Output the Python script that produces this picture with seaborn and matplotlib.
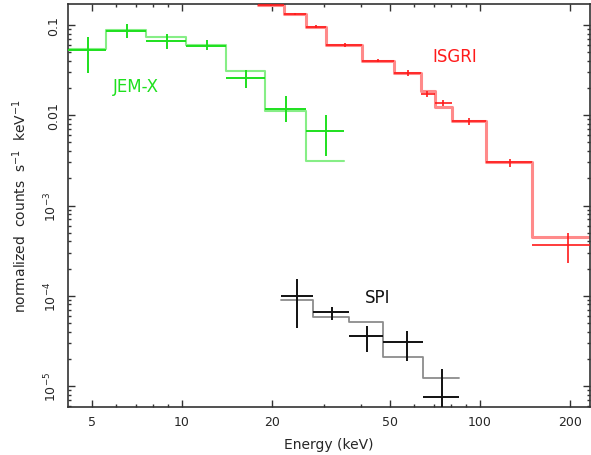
import matplotlib
matplotlib.use("Agg")
import matplotlib.pyplot as plt
import seaborn as sns
import numpy as np
import pandas as pd
from matplotlib.ticker import FixedLocator, FixedFormatter, LogLocator, NullFormatter

# ---------------- data ----------------
# JEM-X
jemx_lo = [4.1, 5.56, 7.57, 10.3, 14.05, 19.0, 26.1]
jemx_hi = [5.56, 7.57, 10.3, 14.05, 19.0, 26.1, 35.0]
jemx_e = [4.84, 6.54, 8.9, 12.1, 16.4, 22.3, 30.4]
jemx_flux = [0.0528, 0.0858, 0.0665, 0.0585, 0.0259, 0.0117, 0.0067]
jemx_ylow = [0.0294, 0.0717, 0.0542, 0.0528, 0.0200, 0.0084, 0.00354]
jemx_yhigh = [0.0736, 0.1026, 0.0795, 0.0682, 0.0317, 0.0163, 0.0101]
jemx_model = [0.0542, 0.088, 0.0736, 0.060, 0.0309, 0.0111, 0.0031]

# ISGRI
isgri_lo = [18.0, 22.0, 26.1, 30.4, 40.2, 51.4, 63.4, 70.6, 80.5, 104.7, 149.5]
isgri_hi = [22.0, 26.1, 30.4, 40.2, 51.4, 63.4, 70.6, 80.5, 104.7, 149.5, 260.0]
isgri_e = [19.9, 23.9, 28.2, 35.2, 45.5, 57.3, 66.4, 75.1, 91.9, 126.0, 197.0]
isgri_flux = [0.166, 0.132, 0.095, 0.060, 0.040, 0.0294, 0.0172, 0.0137, 0.0086, 0.0030, 3.65e-4]
isgri_ylow = [0.162, 0.128, 0.092, 0.0575, 0.0385, 0.0272, 0.0158, 0.0126, 0.0079, 0.0027, 2.3e-4]
isgri_yhigh = [0.171, 0.136, 0.099, 0.0625, 0.0415, 0.0318, 0.0187, 0.0149, 0.0093, 0.0033, 4.95e-4]
isgri_model = [0.166, 0.132, 0.095, 0.060, 0.040, 0.0294, 0.0186, 0.0123, 0.0086, 0.0030, 4.48e-4]

# SPI
spi_lo = [21.5, 27.5, 36.3, 47.3, 64.4]
spi_hi = [27.5, 36.3, 47.3, 64.4, 85.0]
spi_e = [24.3, 31.9, 41.8, 56.9, 74.6]
spi_flux = [9.9e-5, 6.6e-5, 3.6e-5, 3.1e-5, 7.5e-6]
spi_ylow = [4.4e-5, 5.4e-5, 2.4e-5, 1.9e-5, 4.0e-6]
spi_yhigh = [1.53e-4, 7.5e-5, 4.6e-5, 4.1e-5, 1.54e-5]
spi_model = [9.0e-5, 5.8e-5, 5.1e-5, 2.1e-5, 1.23e-5]

xtick_vals = [5, 10, 20, 50, 100, 200]
xtick_labels = ["5", "10", "20", "50", "100", "200"]
ytick_vals = [1e-5, 1e-4, 1e-3, 1e-2, 1e-1]
ytick_labels = ["$10^{-5}$", "$10^{-4}$", "$10^{-3}$", "0.01", "0.1"]

# ---------------- plot ----------------
sns.set_style("ticks")
plt.rcParams["font.family"] = ["DejaVu Sans"]

fig = plt.figure(figsize=(5.91, 4.56), dpi=100)
ax = fig.add_axes([68 / 591, 1 - 408 / 456, 522 / 591, 403 / 456])
ax.set_xscale("log")
ax.set_yscale("log")


def model_step(lo, hi, model, color, lw):
    df = pd.DataFrame({"E": list(lo) + [hi[-1]], "F": list(model) + [model[-1]]})
    sns.lineplot(data=df, x="E", y="F", ax=ax, color=color, lw=lw,
                 drawstyle="steps-post", estimator=None, zorder=2)


def data_cross(e, lo, hi, f, ylow, yhigh, color, lw):
    e = np.asarray(e); f = np.asarray(f)
    xerr = [e - np.asarray(lo), np.asarray(hi) - e]
    yerr = [f - np.asarray(ylow), np.asarray(yhigh) - f]
    ax.errorbar(e, f, xerr=xerr, yerr=yerr, fmt="none", ecolor=color,
                elinewidth=lw, capsize=0, zorder=3)


model_step(jemx_lo, jemx_hi, jemx_model, "#86ee86", 1.5)
model_step(isgri_lo, isgri_hi, isgri_model, "#ff8a8a", 2.2)
model_step(spi_lo, spi_hi, spi_model, "#8c8c8c", 1.3)

data_cross(jemx_e, jemx_lo, jemx_hi, jemx_flux, jemx_ylow, jemx_yhigh, "#1ee01e", 1.4)
data_cross(isgri_e, isgri_lo, isgri_hi, isgri_flux, isgri_ylow, isgri_yhigh, "#ff1a1a", 1.2)
data_cross(spi_e, spi_lo, spi_hi, spi_flux, spi_ylow, spi_yhigh, "#111111", 1.4)

ax.set_xlim(4.14, 234)
ax.set_ylim(5.85e-6, 0.171)

ax.text(5.87, 0.0211, "JEM-X", color="#1ee01e", fontsize=12, va="center", ha="left")
ax.text(69.0, 0.0453, "ISGRI", color="#ff1a1a", fontsize=12, va="center", ha="left")
ax.text(41.1, 9.7e-5, "SPI", color="#111111", fontsize=12, va="center", ha="left")

ax.xaxis.set_major_locator(FixedLocator(xtick_vals))
ax.xaxis.set_major_formatter(FixedFormatter(xtick_labels))
ax.xaxis.set_minor_locator(LogLocator(base=10, subs=np.arange(2, 10)))
ax.xaxis.set_minor_formatter(NullFormatter())
ax.yaxis.set_major_locator(FixedLocator(ytick_vals))
ax.yaxis.set_major_formatter(FixedFormatter(ytick_labels))
ax.yaxis.set_minor_locator(LogLocator(base=10, subs=np.arange(2, 10)))
ax.yaxis.set_minor_formatter(NullFormatter())

ax.tick_params(which="both", direction="in", top=True, right=True,
               color="#333333", width=1.0)
ax.tick_params(which="major", length=5, labelsize=9, pad=6)
ax.tick_params(which="minor", length=2.5)
for lab in ax.get_yticklabels():
    lab.set_rotation(90)
    lab.set_va("center")

for s in ax.spines.values():
    s.set_color("#333333")
    s.set_linewidth(1.2)

ax.set_xlabel("Energy (keV)", fontsize=10, labelpad=6)
ax.set_ylabel(r"normalized  counts  s$^{-1}$  keV$^{-1}$", fontsize=10, labelpad=10)

fig.savefig("out.png", dpi=100)
